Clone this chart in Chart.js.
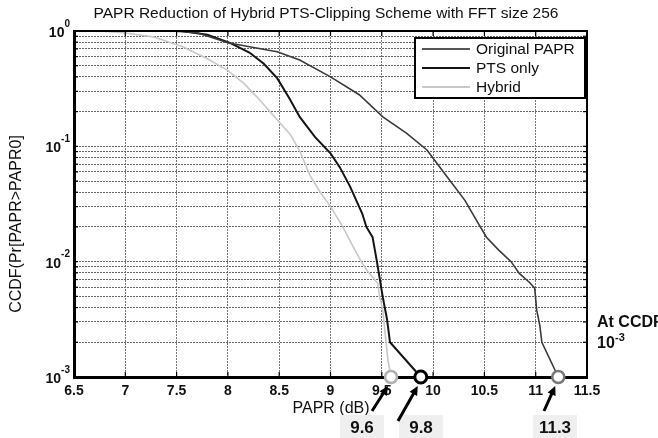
<!DOCTYPE html>
<html>
<head>
<meta charset="utf-8">
<script src="https://cdn.jsdelivr.net/npm/chart.js@4.4.1/dist/chart.umd.min.js"></script>
<style>
  html, body { margin: 0; padding: 0; background: #fff; }
  #wrap { width: 658px; height: 438px; }
</style>
</head>
<body>
<div id="wrap"><canvas id="c" width="658" height="438"></canvas></div>
<script>
// values (PAPR in dB, CCDF)
const origX = [7.45, 7.7, 8.0, 8.25, 8.48, 8.7, 9.0, 9.28, 9.51, 9.74, 9.94, 10.16, 10.31, 10.42, 10.52, 10.64, 10.76, 10.84, 10.94, 10.99, 11.01, 11.04, 11.06, 11.22];
const origY = [1.0, 0.966, 0.79, 0.72, 0.66, 0.56, 0.40, 0.28, 0.18, 0.13, 0.093, 0.051, 0.034, 0.023, 0.0163, 0.0126, 0.010, 0.0079, 0.0066, 0.0059, 0.0038, 0.0028, 0.0020, 0.001];
const ptsX = [7.55, 7.8, 8.02, 8.21, 8.35, 8.48, 8.6, 8.7, 8.85, 9.0, 9.09, 9.19, 9.31, 9.35, 9.41, 9.45, 9.51, 9.55, 9.58, 9.88];
const ptsY = [1.0, 0.93, 0.79, 0.65, 0.52, 0.39, 0.26, 0.18, 0.12, 0.087, 0.066, 0.045, 0.026, 0.020, 0.0163, 0.0103, 0.0049, 0.0032, 0.0020, 0.001];
const hybX = [6.75, 7.0, 7.27, 7.56, 7.8, 7.99, 8.15, 8.28, 8.48, 8.61, 8.7, 8.8, 8.9, 9.0, 9.12, 9.22, 9.3, 9.36, 9.46, 9.48, 9.51, 9.53, 9.56, 9.59];
const hybY = [1.0, 0.96, 0.89, 0.73, 0.575, 0.46, 0.355, 0.27, 0.17, 0.126, 0.091, 0.056, 0.040, 0.030, 0.020, 0.0135, 0.010, 0.0083, 0.0065, 0.0049, 0.0038, 0.0025, 0.0014, 0.001];

const seriesNames = ['Original PAPR', 'PTS only', 'Hybrid'];
const seriesColors = ['#3a3a3a', '#141414', '#c8c8c8'];
const markerColors = ['#7a7a7a', '#000000', '#b0b0b0'];
const xTicks = [6.5, 7, 7.5, 8, 8.5, 9, 9.5, 10, 10.5, 11, 11.5];
const yDecades = [0, -1, -2, -3];
const callouts = ['9.6', '9.8', '11.3'];

const zip = (xs, ys) => xs.map((x, i) => ({ x: x, y: ys[i] }));

// all 1..9 x 10^k values for the log grid
const yTicks = [];
for (let k = -3; k <= 0; k++) {
  for (let m = 1; m <= 9; m++) {
    const v = m * Math.pow(10, k);
    if (v <= 1.0000001) yTicks.push(+v.toPrecision(3));
  }
}

const FONT = '"Liberation Sans", Arial, sans-serif';

const lastBig = ctx => (ctx.dataIndex === ctx.dataset.data.length - 1 ? 6 : 0);

const makeSet = (i, xs, ys, w) => ({
  label: seriesNames[i],
  data: zip(xs, ys),
  borderColor: seriesColors[i],
  borderWidth: w,
  pointRadius: lastBig,
  pointHoverRadius: lastBig,
  pointBackgroundColor: '#fff',
  pointBorderColor: markerColors[i],
  pointBorderWidth: i === 1 ? 3 : 2.5,
  tension: 0,
  clip: false
});

const extras = {
  id: 'extras',
  afterDatasetsDraw(chart) {
    const c = chart.ctx, a = chart.chartArea;
    c.save();
    // top / right frame and inward ticks
    c.strokeStyle = '#000';
    c.lineWidth = 2;
    c.beginPath();
    c.moveTo(a.left, a.top); c.lineTo(a.right, a.top); c.lineTo(a.right, a.bottom);
    c.stroke();
    c.lineWidth = 1.2;
    const xs = chart.scales.x, ys = chart.scales.y;
    xTicks.forEach(v => {
      const px = xs.getPixelForValue(v);
      c.beginPath(); c.moveTo(px, a.top); c.lineTo(px, a.top + 5); c.stroke();
      c.beginPath(); c.moveTo(px, a.bottom); c.lineTo(px, a.bottom - 5); c.stroke();
    });
    yTicks.forEach(v => {
      const py = ys.getPixelForValue(v);
      c.beginPath(); c.moveTo(a.right, py); c.lineTo(a.right - 4, py); c.stroke();
      c.beginPath(); c.moveTo(a.left, py); c.lineTo(a.left + 4, py); c.stroke();
    });

    // legend
    const lx = 415, ly = 38, lw = a.right - 2 - lx, lh = 60;
    c.fillStyle = '#fff';
    c.fillRect(lx, ly, lw, lh);
    c.lineWidth = 2;
    c.strokeStyle = '#000';
    c.strokeRect(lx, ly, lw, lh);
    c.font = '15.5px ' + FONT;
    c.textBaseline = 'middle';
    c.textAlign = 'left';
    seriesNames.forEach((n, i) => {
      const yy = ly + 11 + i * 19;
      c.strokeStyle = i === 0 ? '#555' : seriesColors[i];
      c.lineWidth = 2;
      c.beginPath(); c.moveTo(lx + 7, yy); c.lineTo(lx + 55, yy); c.stroke();
      c.fillStyle = '#111';
      c.fillText(n, lx + 61, yy + 1);
    });
    c.restore();
  },
  afterDraw(chart) {
    const c = chart.ctx, a = chart.chartArea;
    const xs = chart.scales.x, ys = chart.scales.y;
    c.save();
    c.fillStyle = '#111';
    // title
    c.font = '15.5px ' + FONT;
    c.textAlign = 'center';
    c.textBaseline = 'middle';
    c.fillText('PAPR Reduction of Hybrid PTS-Clipping Scheme with FFT size 256', 326, 14);

    // y tick labels 10^k
    yDecades.forEach(k => {
      const py = ys.getPixelForValue(Math.pow(10, k));
      const exp = String(k);
      c.font = 'bold 10px ' + FONT;
      const ew = c.measureText(exp).width;
      c.textAlign = 'left';
      c.fillText(exp, 70 - ew, py - 7);
      c.font = 'bold 14px ' + FONT;
      c.textAlign = 'right';
      c.fillText('10', 70 - ew, py + 2);
    });

    // axis titles
    c.font = '16px ' + FONT;
    c.textAlign = 'center';
    c.fillText('PAPR (dB)', 331, 409);
    c.save();
    c.translate(17, 224);
    c.rotate(-Math.PI / 2);
    c.fillText('CCDF(Pr[PAPR>PAPR0]', 0, 0);
    c.restore();

    // right side note
    c.font = 'bold 16px ' + FONT;
    c.textAlign = 'left';
    c.fillText('At CCDF', 597, 323);
    c.fillText('10', 597, 344);
    c.font = 'bold 11px ' + FONT;
    c.fillText('-3', 615, 338);

    // value callouts with arrows
    const tipY = ys.getPixelForValue(0.001);
    const ends = [hybX[hybX.length - 1], ptsX[ptsX.length - 1], origX[origX.length - 1]];
    const boxCx = [362, 421, 555];
    const tails = [[372, 411], [398, 421], [544, 411]];
    ends.forEach((v, i) => {
      const px = xs.getPixelForValue(v);
      c.fillStyle = '#efefef';
      c.fillRect(boxCx[i] - 22, 415, 44, 23);
      c.fillStyle = '#111';
      c.font = 'bold 17px ' + FONT;
      c.textAlign = 'center';
      c.fillText(callouts[i], boxCx[i], 428);
      // arrow
      const tx = px - 3, ty = tipY + 9;
      const sx = tails[i][0], sy = tails[i][1];
      c.strokeStyle = '#000';
      c.lineWidth = 3;
      const ang = Math.atan2(ty - sy, tx - sx);
      c.beginPath(); c.moveTo(sx, sy); c.lineTo(tx - 6 * Math.cos(ang), ty - 6 * Math.sin(ang)); c.stroke();
      c.beginPath();
      c.moveTo(tx, ty);
      c.lineTo(tx - 10 * Math.cos(ang - 0.45), ty - 10 * Math.sin(ang - 0.45));
      c.lineTo(tx - 10 * Math.cos(ang + 0.45), ty - 10 * Math.sin(ang + 0.45));
      c.closePath();
      c.fillStyle = '#000';
      c.fill();
    });
    c.restore();
  }
};

new Chart(document.getElementById('c'), {
  type: 'line',
  data: {
    datasets: [
      makeSet(0, origX, origY, 1.6),
      makeSet(1, ptsX, ptsY, 2),
      makeSet(2, hybX, hybY, 1.6)
    ]
  },
  options: {
    responsive: false,
    animation: false,
    events: [],
    layout: { padding: { left: 0, right: 71, top: 31, bottom: 0 } },
    plugins: { legend: { display: false }, title: { display: false }, tooltip: { enabled: false } },
    scales: {
      x: {
        type: 'linear',
        min: 6.5,
        max: 11.5,
        afterBuildTicks: s => { s.ticks = xTicks.map(v => ({ value: v })); },
        afterFit: s => { s.height = 61; },
        ticks: {
          color: '#111',
          font: { family: FONT, size: 14, weight: 'bold' },
          padding: 6,
          maxRotation: 0,
          autoSkip: false,
          callback: v => String(v)
        },
        grid: { color: '#777', lineWidth: 1, drawTicks: false },
        border: { color: '#000', width: 3, dash: [2, 1] }
      },
      y: {
        type: 'logarithmic',
        min: 0.001,
        max: 1,
        afterBuildTicks: s => { s.ticks = yTicks.map(v => ({ value: v })); },
        afterFit: s => { s.width = 74; },
        ticks: { callback: () => '', autoSkip: false },
        grid: { color: '#666', lineWidth: 1, drawTicks: false },
        border: { color: '#000', width: 3, dash: [2, 1] }
      }
    }
  },
  plugins: [extras]
});
</script>
</body>
</html>
